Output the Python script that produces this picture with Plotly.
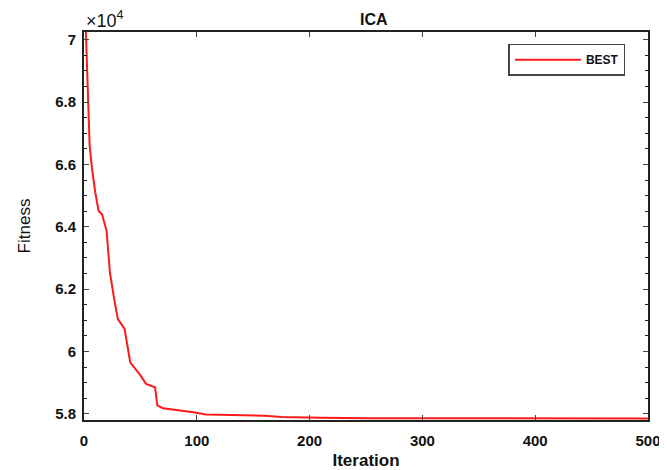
import plotly.graph_objects as go

iteration = [1, 2, 3, 4, 5, 7, 10, 13, 16, 20, 23, 27, 30, 36, 41, 50, 55, 63, 65, 70,
             85, 97, 108, 130, 160, 175, 190, 210, 250, 300, 400, 500]
fitness = [71000, 70000, 68900, 67800, 66600, 65900, 65100, 64500, 64400, 63870, 62530,
           61630, 61040, 60720, 59650, 59230, 58960, 58850, 58270, 58180, 58120, 58050,
           57980, 57960, 57940, 57900, 57880, 57870, 57860, 57855, 57850, 57850]

y_ticks = [58000, 60000, 62000, 64000, 66000, 68000, 70000]
y_tick_labels = ["5.8", "6", "6.2", "6.4", "6.6", "6.8", "7"]
x_ticks = [0, 100, 200, 300, 400, 500]

FONT = "Liberation Sans, Arial, sans-serif"

# page body has an 8px default margin, so the figure is sized to fit the window
fig = go.Figure()
fig.add_trace(go.Scatter(x=iteration, y=fitness, mode="lines", name="<b>BEST</b>",
                         line=dict(color="#ff1a1a", width=2)))

fig.update_layout(
    width=659, height=462,
    margin=dict(l=76, r=19, t=24, b=50),
    paper_bgcolor="white", plot_bgcolor="white",
    title=dict(text="<b>ICA</b>", x=0.555, xanchor="center", y=0.988, yanchor="top",
               font=dict(family=FONT, size=16, color="#111")),
    showlegend=True,
    legend=dict(x=0.96, y=0.97, xanchor="right", yanchor="top",
                bordercolor="#444", borderwidth=1.5, bgcolor="white",
                font=dict(family=FONT, size=12, color="#111"),
                itemwidth=66, tracegroupgap=0),
    font=dict(family=FONT, color="#111"),
)

fig.update_xaxes(range=[0, 500], tickvals=x_ticks, ticktext=["<b>%d</b>" % t for t in x_ticks],
                 ticks="inside", ticklen=5, automargin=False, ticklabelstandoff=6,
                 showline=True, linecolor="#222", linewidth=2, mirror="allticks",
                 showgrid=False, zeroline=False,
                 tickfont=dict(family=FONT, size=15, color="#111"),
                 title=dict(text="<b>Iteration</b>", standoff=6,
                            font=dict(family=FONT, size=17, color="#111")))
fig.update_yaxes(range=[57800, 70250], tickvals=y_ticks,
                 ticktext=["<b>%s</b>" % t for t in y_tick_labels],
                 ticks="inside", ticklen=5, automargin=False, ticklabelstandoff=3,
                 minor=dict(dtick=500, tick0=58000, ticks="inside", ticklen=3, tickcolor="#222"),
                 showline=True, linecolor="#222", linewidth=2, mirror="allticks",
                 showgrid=False, zeroline=False,
                 tickfont=dict(family=FONT, size=15, color="#111"),
                 title=dict(text="Fitness", standoff=20,
                            font=dict(family=FONT, size=17, color="#111")))

fig.add_annotation(xref="paper", yref="paper", x=0.0, y=1.0, xanchor="left", yanchor="bottom",
                   text="×10<sup>4</sup>", showarrow=False,
                   font=dict(family=FONT, size=18, color="#111"), yshift=-1)

fig.write_html("out.html")
